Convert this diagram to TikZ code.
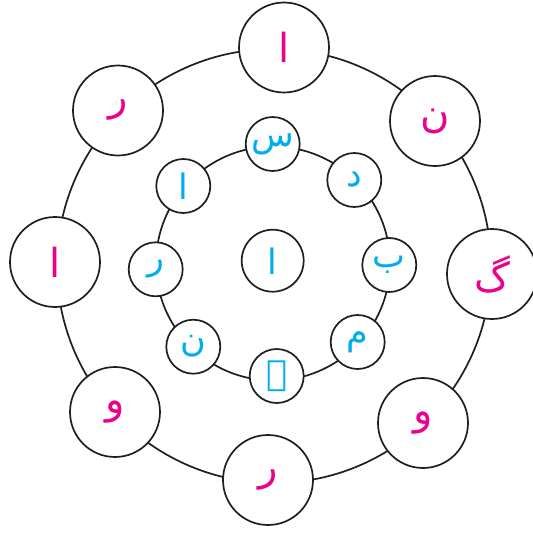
\documentclass[tikz,border=0pt]{standalone}
\usepackage{fontspec}
\TeXXeTstate=1
\newfontfamily\arabicfont[Script=Arabic]{DejaVu Sans}
\definecolor{urdupink}{HTML}{EC008C}
\definecolor{urdublue}{HTML}{00AEEF}
\tikzset{
  ring/.style={line width=1.7pt, draw=black!88},
  bigc/.style={circle, draw=black!88, line width=1.7pt, fill=white, minimum size=90pt, inner sep=0pt,
    font=\arabicfont\fontsize{40}{40}\selectfont, text=urdupink},
  smallc/.style={circle, draw=black!88, line width=1.7pt, fill=white, minimum size=54pt, inner sep=0pt,
    font=\arabicfont\fontsize{35}{35}\selectfont, text=urdublue},
  midc/.style={smallc, minimum size=62pt}
}
\newcommand{\ur}[1]{\beginR #1\endR}
\begin{document}
\begin{tikzpicture}[x=1pt,y=-1pt]
\useasboundingbox (0,0) rectangle (533,542);
% rings
\draw[ring] (274,266) circle (217pt);
\draw[ring] (273,263.5) circle (117pt);
% outer letters
\node[bigc] (o1) at (284,47.5) {\ur{ا}};
\node[bigc] (o2) at (435,121) {\ur{ن}};
\node[bigc] (o3) at (492,274) {\ur{گ}};
\node[bigc] (o4) at (423,423) {\ur{و}};
\node[bigc] (o5) at (268,480) {\ur{ر}};
\node[bigc] (o6) at (115,412) {\ur{و}};
\node[bigc] (o7) at (55,262) {\ur{ا}};
\node[bigc] (o8) at (118,110.5) {\ur{ر}};
% inner letters
\node[smallc] (i1) at (272.7,144) {\ur{س}};
\node[smallc] (i2) at (354.3,180) {\ur{د}};
\node[smallc] (i3) at (389.3,265) {\ur{ب}};
\node[smallc] (i4) at (357.7,342) {\ur{م}};
\node[smallc] (i5) at (276.7,376) {\ur{ے}};
\node[smallc] (i6) at (193.3,346.7) {\ur{ن}};
\node[smallc] (i7) at (155.7,269.3) {\ur{ر}};
\node[smallc] (i8) at (183.3,186) {\ur{ا}};
% centre
\node[midc] (c) at (272.7,260.7) {\ur{ا}};
\end{tikzpicture}
\end{document}
